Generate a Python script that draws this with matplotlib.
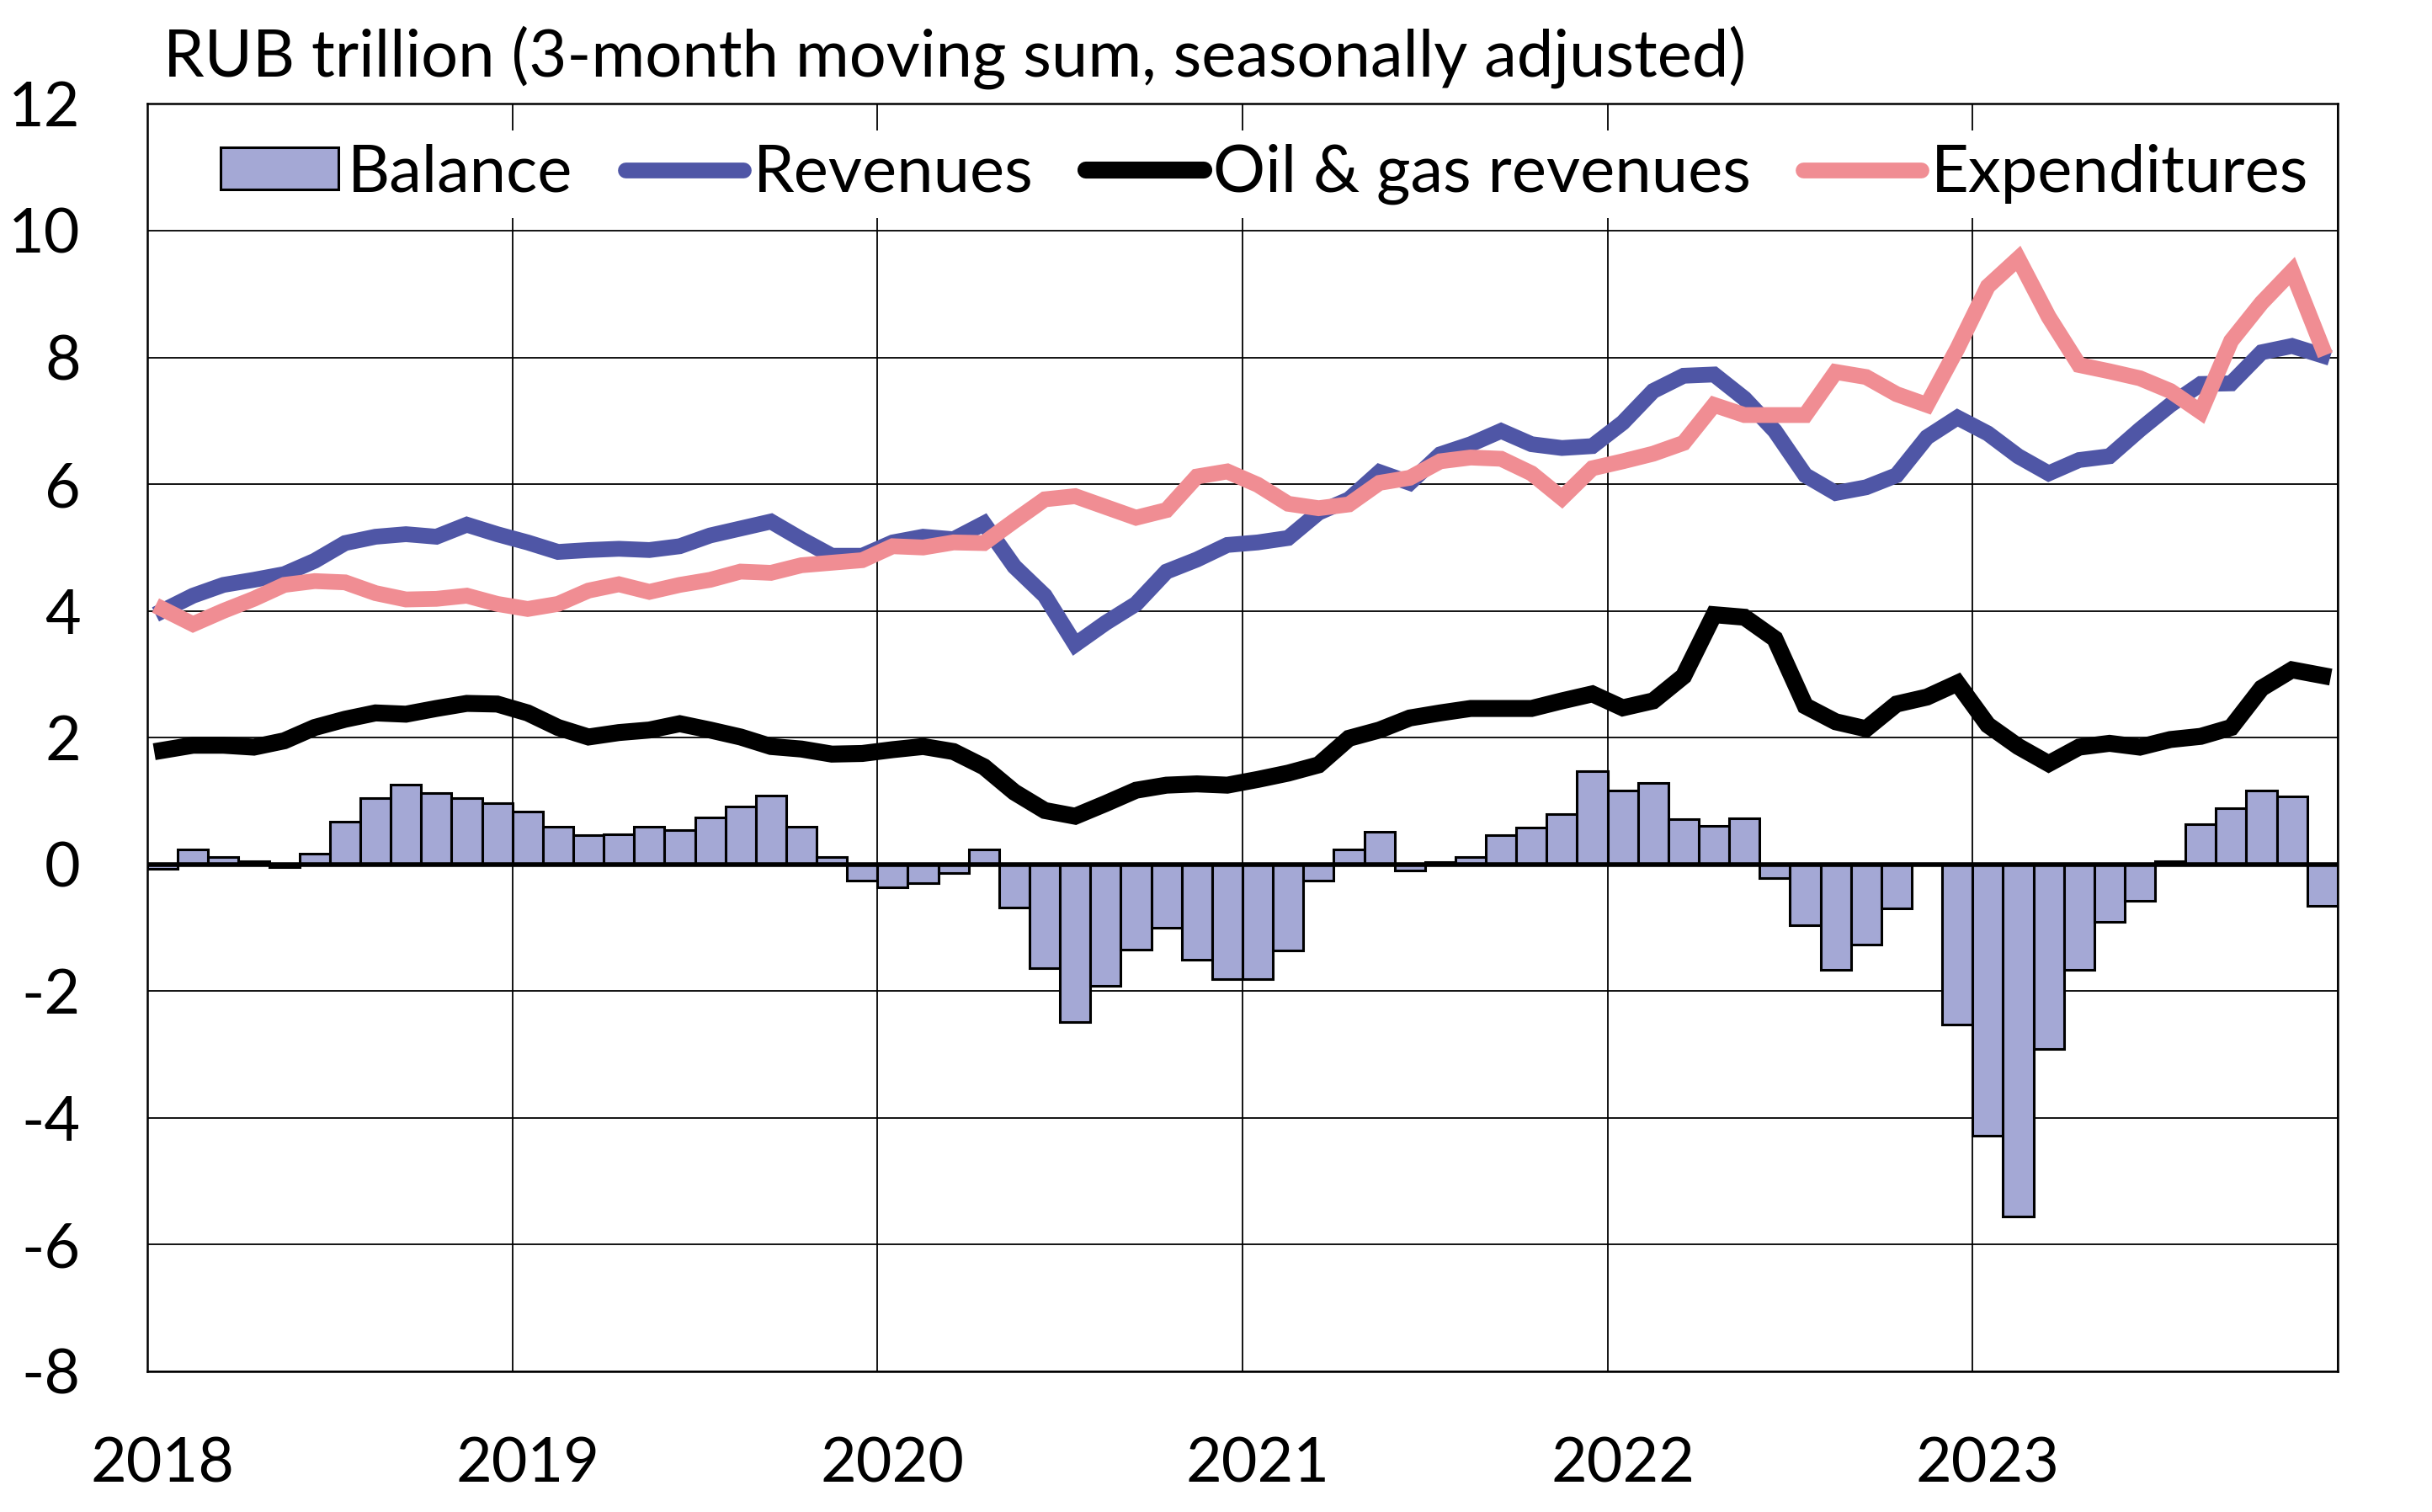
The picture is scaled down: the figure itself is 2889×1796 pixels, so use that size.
import matplotlib
matplotlib.use("Agg")
import matplotlib.pyplot as plt
from matplotlib.patches import Patch
from matplotlib.lines import Line2D
import numpy as np

plt.rcParams['font.family'] = ['Lato', 'DejaVu Sans']
plt.rcParams['axes.unicode_minus'] = False

years = ["2018", "2019", "2020", "2021", "2022", "2023"]

# monthly, Jan 2018 - Dec 2023
balance = [
    -0.07, 0.23, 0.11, 0.05, -0.04, 0.17, 0.67, 1.04, 1.26, 1.12, 1.05, 0.96,
    0.84, 0.60, 0.46, 0.48, 0.60, 0.54, 0.74, 0.91, 1.08, 0.60, 0.12, -0.26,
    -0.36, -0.29, -0.13, 0.23, -0.68, -1.64, -2.49, -1.92, -1.35, -1.00, -1.51, -1.81,
    -1.81, -1.36, -0.26, 0.23, 0.52, -0.09, 0.03, 0.11, 0.46, 0.58, 0.80, 1.47,
    1.17, 1.28, 0.71, 0.61, 0.73, -0.22, -0.96, -1.67, -1.27, -0.69, 0.0, -2.53,
    -4.28, -5.55, -2.91, -1.67, -0.91, -0.58, 0.05, 0.64, 0.88, 1.16, 1.07, -0.65,
]
revenues = [
    4.00, 4.24, 4.41, 4.49, 4.58, 4.79, 5.07, 5.17, 5.21, 5.17, 5.36, 5.21,
    5.08, 4.93, 4.96, 4.98, 4.96, 5.02, 5.19, 5.30, 5.41, 5.13, 4.87, 4.87,
    5.08, 5.17, 5.13, 5.38, 4.70, 4.24, 3.47, 3.81, 4.11, 4.62, 4.81, 5.04,
    5.08, 5.15, 5.55, 5.76, 6.19, 6.02, 6.47, 6.63, 6.84, 6.63, 6.57, 6.60,
    6.97, 7.47, 7.71, 7.73, 7.35, 6.84, 6.14, 5.86, 5.95, 6.14, 6.74, 7.05,
    6.80, 6.44, 6.17, 6.38, 6.44, 6.86, 7.25, 7.58, 7.59, 8.08, 8.18, 8.03,
]
oil_gas = [
    1.80, 1.88, 1.88, 1.85, 1.95, 2.16, 2.29, 2.39, 2.37, 2.46, 2.54, 2.53,
    2.39, 2.16, 2.01, 2.08, 2.12, 2.22, 2.12, 2.01, 1.86, 1.82, 1.74, 1.75,
    1.81, 1.86, 1.78, 1.54, 1.14, 0.85, 0.76, 0.96, 1.17, 1.25, 1.27, 1.25,
    1.34, 1.44, 1.57, 1.99, 2.12, 2.31, 2.39, 2.46, 2.46, 2.46, 2.58, 2.69,
    2.47, 2.58, 2.97, 3.94, 3.90, 3.56, 2.50, 2.25, 2.14, 2.53, 2.64, 2.86,
    2.20, 1.86, 1.59, 1.85, 1.91, 1.85, 1.97, 2.02, 2.16, 2.78, 3.07, 2.98,
]
expenditures = [
    4.03, 3.79, 4.00, 4.19, 4.41, 4.47, 4.45, 4.28, 4.18, 4.19, 4.24, 4.11,
    4.03, 4.11, 4.32, 4.42, 4.30, 4.41, 4.49, 4.62, 4.60, 4.72, 4.76, 4.80,
    5.02, 5.00, 5.08, 5.07, 5.42, 5.76, 5.81, 5.64, 5.47, 5.59, 6.12, 6.20,
    5.99, 5.69, 5.62, 5.68, 6.02, 6.10, 6.36, 6.42, 6.40, 6.17, 5.78, 6.25,
    6.36, 6.48, 6.65, 7.25, 7.09, 7.09, 7.09, 7.77, 7.69, 7.42, 7.25, 8.14,
    9.12, 9.56, 8.64, 7.88, 7.78, 7.67, 7.47, 7.14, 8.26, 8.86, 9.36, 8.15,
]

c_bal = "#A4A8D5"
c_rev = "#4F56A6"
c_oil = "#000000"
c_exp = "#F08D93"
fs_tick = 53
fs_text = 56
lw_col = 13.5
lw_oil = 14.5

fig = plt.figure(figsize=(28.89, 17.96), dpi=100)
ax = fig.add_axes([0.0606, 0.093, 0.9006, 0.8383])

x = np.arange(len(balance)) + 0.5
ax.bar(x, balance, width=1.0, color=c_bal, edgecolor="black", linewidth=2.2, zorder=2)
ax.axhline(0, color="black", linewidth=4, zorder=3)
ax.plot(x, revenues, color=c_rev, linewidth=lw_col, solid_joinstyle="miter", zorder=4)
ax.plot(x, oil_gas, color=c_oil, linewidth=lw_oil, solid_joinstyle="miter", zorder=4)
ax.plot(x, expenditures, color=c_exp, linewidth=lw_col, solid_joinstyle="miter", zorder=5)

ax.set_xlim(0, 72)
ax.set_ylim(-8, 12)
ax.set_yticks(np.arange(-8, 13, 2))
ax.set_xticks(np.arange(0, 73, 12))
ax.set_xticklabels([])
ax.set_xticks(np.arange(len(years)) * 12 + 0.5, minor=True)
ax.set_xticklabels(years, minor=True)
ax.tick_params(axis="both", which="both", length=0, labelsize=fs_tick)
ax.tick_params(axis="y", pad=57)
ax.tick_params(axis="x", which="minor", pad=56)
ax.grid(True, which="major", color="black", linewidth=1.3, zorder=1)
ax.set_axisbelow(True)
for s in ax.spines.values():
    s.set_linewidth(1.8)
    s.set_zorder(6)

fig.text(0.067, 0.962, "RUB trillion (3-month moving sum, seasonally adjusted)",
         fontsize=fs_text, va="center", ha="left")

handles = [
    Patch(facecolor=c_bal, edgecolor="black", linewidth=2.2),
    Line2D([], [], color=c_rev, linewidth=lw_col, solid_capstyle="round"),
    Line2D([], [], color=c_oil, linewidth=lw_oil, solid_capstyle="round"),
    Line2D([], [], color=c_exp, linewidth=lw_col, solid_capstyle="round"),
]
labels = ["Balance", "Revenues", "Oil & gas revenues", "Expenditures"]
leg = ax.legend(handles, labels, loc="upper center", bbox_to_anchor=(0.51, 0.979),
                ncol=4, fontsize=fs_text, frameon=True, fancybox=False,
                handlelength=1.8, handleheight=0.6, handletextpad=0.15,
                columnspacing=0.8, borderpad=0.2, borderaxespad=0)
leg.get_frame().set_facecolor("white")
leg.get_frame().set_edgecolor("none")
leg.get_frame().set_alpha(1)
leg.set_zorder(7)

fig.savefig("out.png", dpi=100)
